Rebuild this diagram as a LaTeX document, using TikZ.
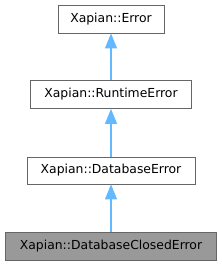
\documentclass[tikz,border=0pt]{standalone}
\usepackage{fontspec}
\setmainfont{DejaVu Sans}
\usetikzlibrary{arrows.meta}
\definecolor{edgeblue}{HTML}{63B8FF}
\definecolor{boxline}{HTML}{666666}
\definecolor{boxgray}{HTML}{999999}
\tikzset{
  cls/.style={draw=boxline, fill=white, line width=0.8pt, minimum height=28pt, inner sep=0pt, font=\fontsize{12.4}{14}\selectfont},
  cur/.style={cls, fill=boxgray},
  inh/.style={draw=edgeblue, line width=1.1pt, -{Triangle[width=12pt,length=15pt]}}
}
\begin{document}
\begin{tikzpicture}[x=1pt,y=-1pt]
\useasboundingbox (0,0) rectangle (222,265);
\node[cls, minimum width=106pt] (err) at (111,19) {Xapian::Error};
\node[cls, minimum width=161pt] (rt) at (111,94.5) {Xapian::RuntimeError};
\node[cls, minimum width=168pt, minimum height=27pt] (db) at (111,170.5) {Xapian::DatabaseError};
\node[cur, minimum width=211pt] (dbc) at (111,246) {Xapian::DatabaseClosedError};
\draw[inh] (rt.north) -- (err.south);
\draw[inh] (db.north) -- (rt.south);
\draw[inh] (dbc.north) -- (db.south);
\end{tikzpicture}
\end{document}
